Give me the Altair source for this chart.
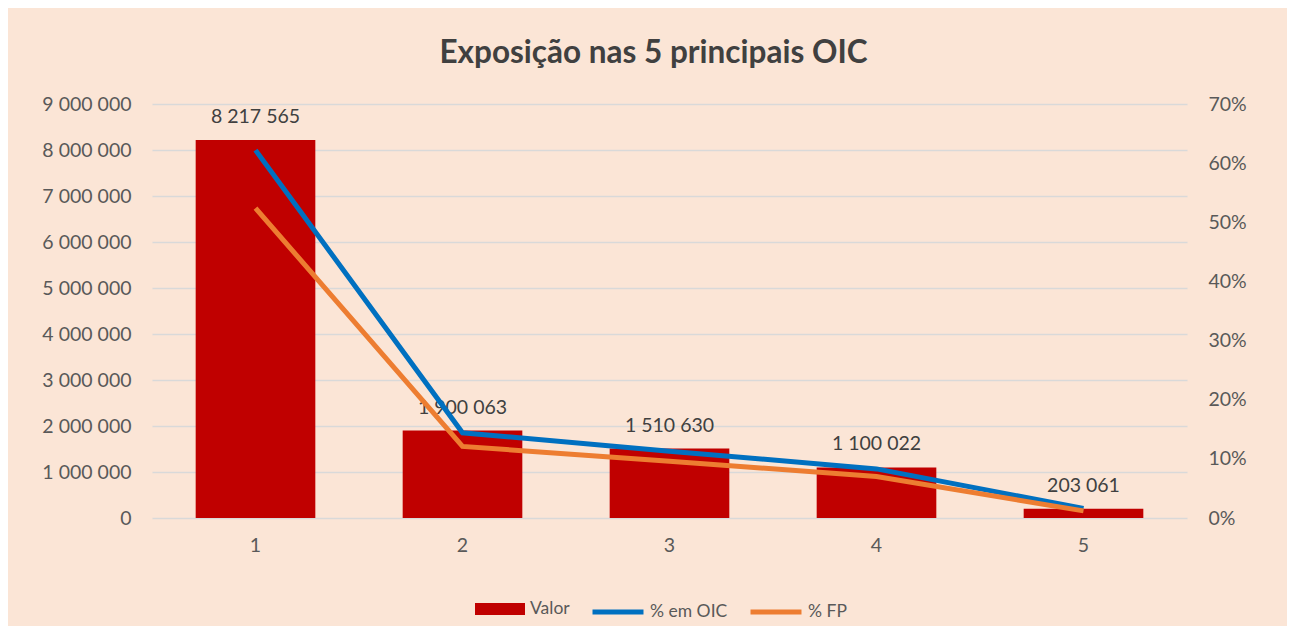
import altair as alt
import pandas as pd

categories = ["1", "2", "3", "4", "5"]
valor = [8217565, 1900063, 1510630, 1100022, 203061]
pct_oic = [0.622, 0.144, 0.113, 0.083, 0.016]
pct_fp = [0.524, 0.121, 0.096, 0.070, 0.012]

bars_df = pd.DataFrame({"cat": categories, "valor": valor, "series": ["Valor"] * 5})
lines_df = pd.DataFrame({
    "cat": categories * 2,
    "pct": pct_oic + pct_fp,
    "series": ["% em OIC"] * 5 + ["% FP"] * 5,
})

FONT = "Lato"
LABEL_COLOR = "#595959"
FS = 19.5

x_enc = alt.X("cat:N", sort=categories, title=None,
              scale=alt.Scale(paddingInner=0.422, paddingOuter=0.211),
              axis=alt.Axis(labelAngle=0, ticks=False, domain=False, grid=False,
                            labelPadding=18, labelFontSize=FS, labelColor=LABEL_COLOR))

y_left = alt.Y("valor:Q", title=None,
               scale=alt.Scale(domain=[0, 9000000], nice=False),
               axis=alt.Axis(values=[i * 1000000 for i in range(10)], format=",d",
                             ticks=False, domain=False, grid=True, gridColor="#D9D9D9",
                             gridWidth=1.5,
                             labelPadding=21, labelFontSize=FS, labelColor=LABEL_COLOR))

bars = alt.Chart(bars_df).mark_bar().encode(
    x=x_enc,
    y=y_left,
    fill=alt.Fill("series:N", scale=alt.Scale(domain=["Valor"], range=["#C00000"]),
                  legend=alt.Legend(title=None, orient="none", legendX=323, legendY=480,
                                    symbolType="M-1,-0.24L1,-0.24L1,0.24L-1,0.24Z",
                                    symbolSize=2500, symbolStrokeWidth=0,
                                    labelFontSize=17.5, labelColor=LABEL_COLOR, labelOffset=5)),
)

text = alt.Chart(bars_df).mark_text(baseline="middle", dy=-23, fontSize=FS,
                                    color="#404040", font=FONT).encode(
    x=alt.X("cat:N", sort=categories),
    y=alt.Y("valor:Q"),
    text=alt.Text("valor:Q", format=",d"),
)

lines = alt.Chart(lines_df).mark_line(strokeWidth=5).encode(
    x=alt.X("cat:N", sort=categories),
    y=alt.Y("pct:Q", title=None,
            scale=alt.Scale(domain=[0, 0.7], nice=False),
            axis=alt.Axis(orient="right", values=[i / 10 for i in range(8)], format=".0%",
                          ticks=False, domain=False, grid=False,
                          labelPadding=21, labelFontSize=FS, labelColor=LABEL_COLOR)),
    stroke=alt.Stroke("series:N",
                      scale=alt.Scale(domain=["% em OIC", "% FP"], range=["#0070C0", "#ED7D31"]),
                      legend=alt.Legend(title=None, orient="none", legendX=438, legendY=480,
                                        direction="horizontal", symbolType="stroke",
                                        symbolSize=2600, symbolStrokeWidth=5,
                                        columnPadding=12,
                                        labelFontSize=17.5, labelColor=LABEL_COLOR, labelOffset=4)),
    detail="series:N",
)

chart = alt.layer(alt.layer(bars, text), lines).resolve_scale(
    y="independent"
).properties(
    width=1035,
    height=414,
    background="#FBE5D6",
    padding={"left": 144, "top": 96, "right": 100, "bottom": 108},
    autosize=alt.AutoSizeParams(type="none"),
    title=alt.TitleParams("Exposição nas 5 principais OIC", fontSize=31.5, fontWeight="bold",
                          color="#404040", font=FONT, anchor="middle", offset=25, dx=-16),
).configure(
    font=FONT,
    locale={"number": {"decimal": ",", "thousands": " ", "grouping": [3],
                       "currency": ["", " €"]}},
).configure_view(stroke=None).configure_axis(labelFont=FONT).configure_legend(labelFont=FONT)

chart.save("out.html", embed_options={"renderer": "svg", "actions": False})
